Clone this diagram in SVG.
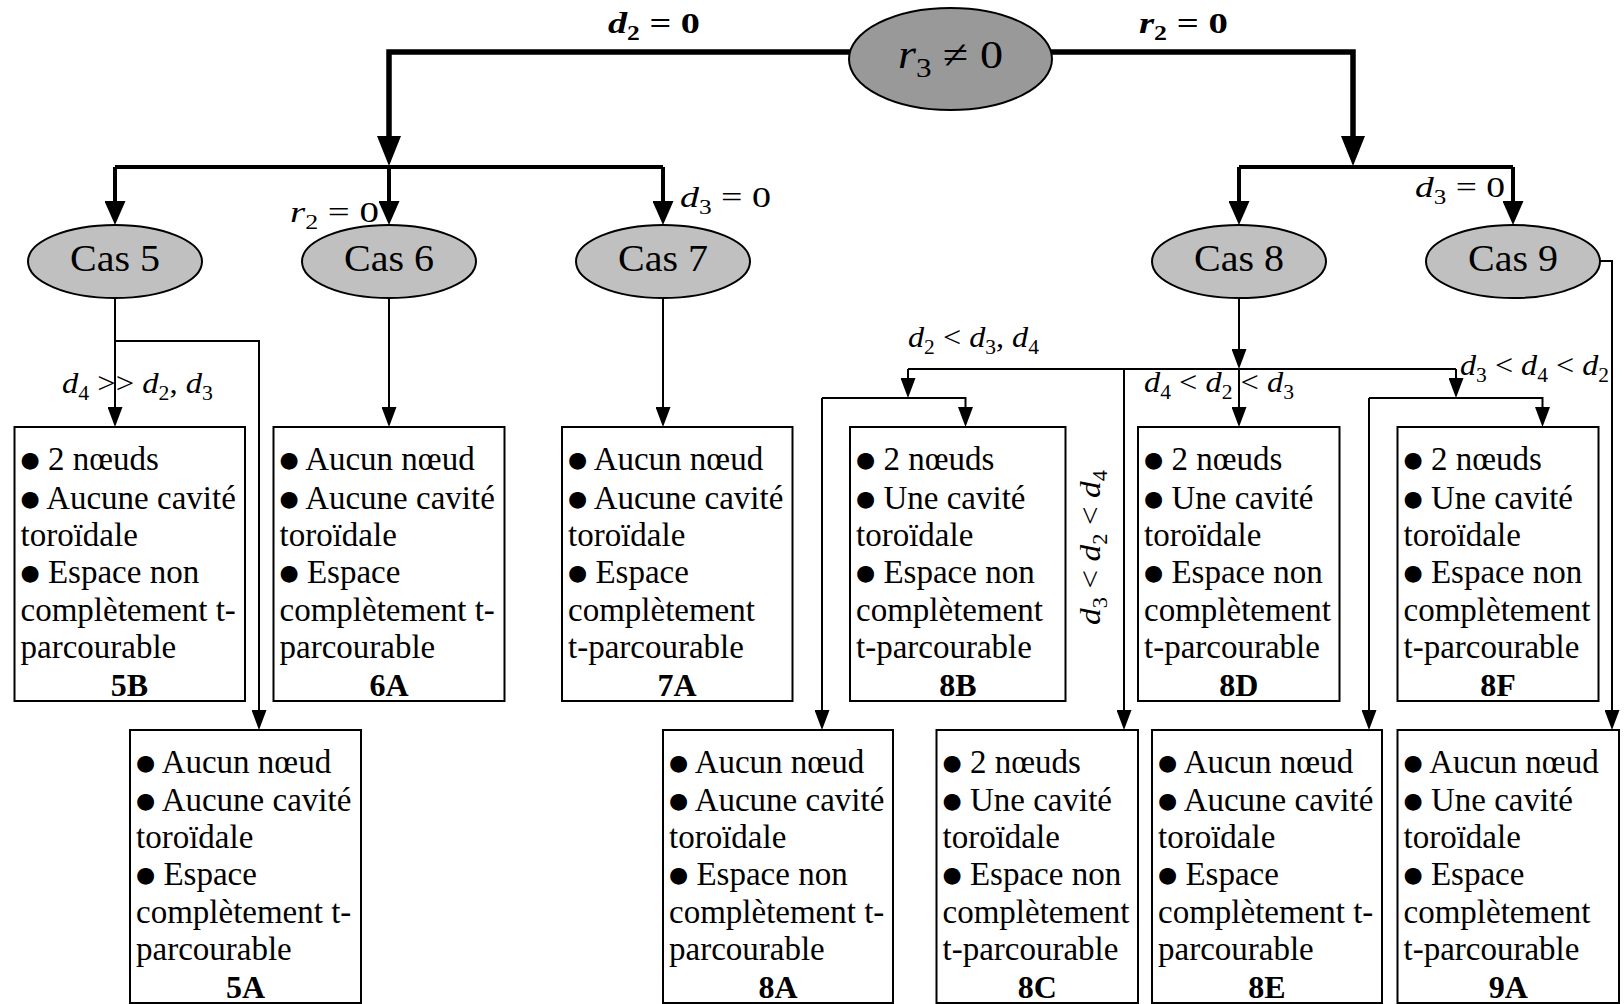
<svg xmlns="http://www.w3.org/2000/svg" width="1624" height="1004" viewBox="0 0 1624 1004">
<style>
text { font-family: "Liberation Serif", "DejaVu Serif", serif; fill: #000; }
.bt { font-size: 33px; }
.bul { font-family: "DejaVu Sans", sans-serif; font-size: 22px; }
.id { font-size: 32px; font-weight: bold; text-anchor: middle; }
.cas { font-size: 37px; }
.m { font-size: 30px; }
.mb { font-size: 30px; font-weight: bold; }
.it { font-style: italic; }
.sub { font-size: 20px; }
.box { fill: #fff; stroke: #000; stroke-width: 2; }
.ell { fill: #c0c0c0; stroke: #000; stroke-width: 2; }
.root { fill: #999999; stroke: #000; stroke-width: 2; }
.thick { fill: none; stroke: #000; stroke-width: 5.5; }
.midl { fill: none; stroke: #000; stroke-width: 4; }
.thin { fill: none; stroke: #000; stroke-width: 2; }
</style>
<defs>
<marker id="ahT" markerUnits="userSpaceOnUse" markerWidth="30" markerHeight="24" viewBox="0 0 30 24" refX="0" refY="12" orient="auto"><path d="M0,0 L30,12 L0,24 z" fill="#000"/></marker>
<marker id="ahM" markerUnits="userSpaceOnUse" markerWidth="24" markerHeight="21" viewBox="0 0 24 21" refX="0" refY="10.5" orient="auto"><path d="M0,0 L24,10.5 L0,21 z" fill="#000"/></marker>
<marker id="ahS" markerUnits="userSpaceOnUse" markerWidth="20" markerHeight="15" viewBox="0 0 20 15" refX="0" refY="7.5" orient="auto"><path d="M0,0 L20,7.5 L0,15 z" fill="#000"/></marker>
</defs>

<g id="connectors">
  <path class="thick" d="M851,52 H389 V136" marker-end="url(#ahT)"/>
  <path class="thick" d="M1051,52 H1353 V136" marker-end="url(#ahT)"/>
  <path class="midl" d="M115,167 H663"/>
  <path class="midl" d="M115,167 V201" marker-end="url(#ahM)"/>
  <path class="midl" d="M389,167 V201" marker-end="url(#ahM)"/>
  <path class="midl" d="M663,167 V201" marker-end="url(#ahM)"/>
  <path class="midl" d="M1239,167 H1513"/>
  <path class="midl" d="M1239,167 V201" marker-end="url(#ahM)"/>
  <path class="midl" d="M1513,167 V201" marker-end="url(#ahM)"/>

  <path class="thin" d="M115,298 V407" marker-end="url(#ahS)"/>
  <path class="thin" d="M115,341 H259 V710" marker-end="url(#ahS)"/>
  <path class="thin" d="M389,298 V407" marker-end="url(#ahS)"/>
  <path class="thin" d="M663,298 V407" marker-end="url(#ahS)"/>

  <path class="thin" d="M1239,298 V349" marker-end="url(#ahS)"/>
  <path class="thin" d="M908,369 H1456"/>
  <path class="thin" d="M908,369 V378" marker-end="url(#ahS)"/>
  <path class="thin" d="M822,398 H965.5 V407" marker-end="url(#ahS)"/>
  <path class="thin" d="M822,398 V710" marker-end="url(#ahS)"/>
  <path class="thin" d="M1124,369 V710" marker-end="url(#ahS)"/>
  <path class="thin" d="M1239,369 V407" marker-end="url(#ahS)"/>
  <path class="thin" d="M1456,369 V378" marker-end="url(#ahS)"/>
  <path class="thin" d="M1369,398 H1542.5 V407" marker-end="url(#ahS)"/>
  <path class="thin" d="M1369,398 V710" marker-end="url(#ahS)"/>
  <path class="thin" d="M1600,261 H1612 V710" marker-end="url(#ahS)"/>

  <text class="mb" x="608" y="33" textLength="92" lengthAdjust="spacingAndGlyphs"><tspan class="it">d</tspan><tspan class="sub" dy="7">2</tspan><tspan dy="-7"> = 0</tspan></text>
  <text class="mb" x="1139" y="33" textLength="89" lengthAdjust="spacingAndGlyphs"><tspan class="it">r</tspan><tspan class="sub" dy="7">2</tspan><tspan dy="-7"> = 0</tspan></text>
  <text class="m" x="290" y="222" textLength="89" lengthAdjust="spacingAndGlyphs"><tspan class="it">r</tspan><tspan class="sub" dy="7">2</tspan><tspan dy="-7"> = 0</tspan></text>
  <text class="m" x="680" y="207" textLength="91" lengthAdjust="spacingAndGlyphs"><tspan class="it">d</tspan><tspan class="sub" dy="7">3</tspan><tspan dy="-7"> = 0</tspan></text>
  <text class="m" x="1415" y="197" textLength="90" lengthAdjust="spacingAndGlyphs"><tspan class="it">d</tspan><tspan class="sub" dy="7">3</tspan><tspan dy="-7"> = 0</tspan></text>
  <text class="m" x="62" y="393" textLength="151" lengthAdjust="spacingAndGlyphs"><tspan class="it">d</tspan><tspan class="sub" dy="7">4</tspan><tspan dy="-7"> &gt;&gt; </tspan><tspan class="it">d</tspan><tspan class="sub" dy="7">2</tspan><tspan dy="-7">, </tspan><tspan class="it">d</tspan><tspan class="sub" dy="7">3</tspan></text>
  <text class="m" x="908" y="347" textLength="131" lengthAdjust="spacingAndGlyphs"><tspan class="it">d</tspan><tspan class="sub" dy="7">2</tspan><tspan dy="-7"> &lt; </tspan><tspan class="it">d</tspan><tspan class="sub" dy="7">3</tspan><tspan dy="-7">, </tspan><tspan class="it">d</tspan><tspan class="sub" dy="7">4</tspan></text>
  <text class="m" x="1144" y="392" textLength="150" lengthAdjust="spacingAndGlyphs"><tspan class="it">d</tspan><tspan class="sub" dy="7">4</tspan><tspan dy="-7"> &lt; </tspan><tspan class="it">d</tspan><tspan class="sub" dy="7">2</tspan><tspan dy="-7"> &lt; </tspan><tspan class="it">d</tspan><tspan class="sub" dy="7">3</tspan></text>
  <text class="m" x="1460" y="375" textLength="149" lengthAdjust="spacingAndGlyphs"><tspan class="it">d</tspan><tspan class="sub" dy="7">3</tspan><tspan dy="-7"> &lt; </tspan><tspan class="it">d</tspan><tspan class="sub" dy="7">4</tspan><tspan dy="-7"> &lt; </tspan><tspan class="it">d</tspan><tspan class="sub" dy="7">2</tspan></text>
  <text class="m" transform="translate(1100,625) rotate(-90)" x="0" y="0" textLength="155" lengthAdjust="spacingAndGlyphs"><tspan class="it">d</tspan><tspan class="sub" dy="7">3</tspan><tspan dy="-7"> &lt; </tspan><tspan class="it">d</tspan><tspan class="sub" dy="7">2</tspan><tspan dy="-7"> &lt; </tspan><tspan class="it">d</tspan><tspan class="sub" dy="7">4</tspan></text>
</g>

<g id="node-root">
  <ellipse class="root" cx="950.5" cy="59" rx="101.5" ry="51"/>
  <text style="font-size:40px" x="898" y="68" textLength="105" lengthAdjust="spacingAndGlyphs"><tspan class="it">r</tspan><tspan style="font-size:27px" dy="9">3</tspan><tspan dy="-9"> ≠ 0</tspan></text>
</g>

<g id="node-cas5"><ellipse class="ell" cx="115" cy="261.5" rx="87" ry="36.5"/><text class="cas" x="70" y="271" textLength="90" lengthAdjust="spacingAndGlyphs">Cas 5</text></g>
<g id="node-cas6"><ellipse class="ell" cx="389" cy="261.5" rx="87" ry="36.5"/><text class="cas" x="344" y="271" textLength="90" lengthAdjust="spacingAndGlyphs">Cas 6</text></g>
<g id="node-cas7"><ellipse class="ell" cx="663" cy="261.5" rx="87" ry="36.5"/><text class="cas" x="618" y="271" textLength="90" lengthAdjust="spacingAndGlyphs">Cas 7</text></g>
<g id="node-cas8"><ellipse class="ell" cx="1239" cy="261.5" rx="87" ry="36.5"/><text class="cas" x="1194" y="271" textLength="90" lengthAdjust="spacingAndGlyphs">Cas 8</text></g>
<g id="node-cas9"><ellipse class="ell" cx="1513" cy="261.5" rx="87" ry="36.5"/><text class="cas" x="1468" y="271" textLength="90" lengthAdjust="spacingAndGlyphs">Cas 9</text></g>

<g id="node-5B" transform="translate(14.5,427)">
  <rect class="box" width="230.5" height="274"/>
  <text class="bt" x="6" y="43"><tspan class="bul" dy="-3">●</tspan><tspan dy="3"> 2 nœuds</tspan></text>
  <text class="bt" x="6" y="82"><tspan class="bul" dy="-3">●</tspan><tspan dy="3"> Aucune cavité</tspan></text>
  <text class="bt" x="6" y="119">toroïdale</text>
  <text class="bt" x="6" y="156"><tspan class="bul" dy="-3">●</tspan><tspan dy="3"> Espace non</tspan></text>
  <text class="bt" x="6" y="194">complètement t-</text>
  <text class="bt" x="6" y="231">parcourable</text>
  <text class="id" x="115" y="269">5B</text>
</g>
<g id="node-6A" transform="translate(273.5,427)">
  <rect class="box" width="231" height="274"/>
  <text class="bt" x="6" y="43"><tspan class="bul" dy="-3">●</tspan><tspan dy="3"> Aucun nœud</tspan></text>
  <text class="bt" x="6" y="82"><tspan class="bul" dy="-3">●</tspan><tspan dy="3"> Aucune cavité</tspan></text>
  <text class="bt" x="6" y="119">toroïdale</text>
  <text class="bt" x="6" y="156"><tspan class="bul" dy="-3">●</tspan><tspan dy="3"> Espace</tspan></text>
  <text class="bt" x="6" y="194">complètement t-</text>
  <text class="bt" x="6" y="231">parcourable</text>
  <text class="id" x="115.5" y="269">6A</text>
</g>
<g id="node-7A" transform="translate(562,427)">
  <rect class="box" width="230.5" height="274"/>
  <text class="bt" x="6" y="43"><tspan class="bul" dy="-3">●</tspan><tspan dy="3"> Aucun nœud</tspan></text>
  <text class="bt" x="6" y="82"><tspan class="bul" dy="-3">●</tspan><tspan dy="3"> Aucune cavité</tspan></text>
  <text class="bt" x="6" y="119">toroïdale</text>
  <text class="bt" x="6" y="156"><tspan class="bul" dy="-3">●</tspan><tspan dy="3"> Espace</tspan></text>
  <text class="bt" x="6" y="194">complètement</text>
  <text class="bt" x="6" y="231">t-parcourable</text>
  <text class="id" x="115" y="269">7A</text>
</g>
<g id="node-8B" transform="translate(850,427)">
  <rect class="box" width="215.5" height="274"/>
  <text class="bt" x="6" y="43"><tspan class="bul" dy="-3">●</tspan><tspan dy="3"> 2 nœuds</tspan></text>
  <text class="bt" x="6" y="82"><tspan class="bul" dy="-3">●</tspan><tspan dy="3"> Une cavité</tspan></text>
  <text class="bt" x="6" y="119">toroïdale</text>
  <text class="bt" x="6" y="156"><tspan class="bul" dy="-3">●</tspan><tspan dy="3"> Espace non</tspan></text>
  <text class="bt" x="6" y="194">complètement</text>
  <text class="bt" x="6" y="231">t-parcourable</text>
  <text class="id" x="107.8" y="269">8B</text>
</g>
<g id="node-8D" transform="translate(1138,427)">
  <rect class="box" width="201.5" height="274"/>
  <text class="bt" x="6" y="43"><tspan class="bul" dy="-3">●</tspan><tspan dy="3"> 2 nœuds</tspan></text>
  <text class="bt" x="6" y="82"><tspan class="bul" dy="-3">●</tspan><tspan dy="3"> Une cavité</tspan></text>
  <text class="bt" x="6" y="119">toroïdale</text>
  <text class="bt" x="6" y="156"><tspan class="bul" dy="-3">●</tspan><tspan dy="3"> Espace non</tspan></text>
  <text class="bt" x="6" y="194">complètement</text>
  <text class="bt" x="6" y="231">t-parcourable</text>
  <text class="id" x="100.8" y="269">8D</text>
</g>
<g id="node-8F" transform="translate(1397.5,427)">
  <rect class="box" width="201" height="274"/>
  <text class="bt" x="6" y="43"><tspan class="bul" dy="-3">●</tspan><tspan dy="3"> 2 nœuds</tspan></text>
  <text class="bt" x="6" y="82"><tspan class="bul" dy="-3">●</tspan><tspan dy="3"> Une cavité</tspan></text>
  <text class="bt" x="6" y="119">toroïdale</text>
  <text class="bt" x="6" y="156"><tspan class="bul" dy="-3">●</tspan><tspan dy="3"> Espace non</tspan></text>
  <text class="bt" x="6" y="194">complètement</text>
  <text class="bt" x="6" y="231">t-parcourable</text>
  <text class="id" x="100.5" y="269">8F</text>
</g>

<g id="node-5A" transform="translate(130,730)">
  <rect class="box" width="231" height="273"/>
  <text class="bt" x="6" y="43"><tspan class="bul" dy="-3">●</tspan><tspan dy="3"> Aucun nœud</tspan></text>
  <text class="bt" x="6" y="81"><tspan class="bul" dy="-3">●</tspan><tspan dy="3"> Aucune cavité</tspan></text>
  <text class="bt" x="6" y="118">toroïdale</text>
  <text class="bt" x="6" y="155"><tspan class="bul" dy="-3">●</tspan><tspan dy="3"> Espace</tspan></text>
  <text class="bt" x="6" y="193">complètement t-</text>
  <text class="bt" x="6" y="230">parcourable</text>
  <text class="id" x="115.5" y="268">5A</text>
</g>
<g id="node-8A" transform="translate(663,730)">
  <rect class="box" width="230" height="273"/>
  <text class="bt" x="6" y="43"><tspan class="bul" dy="-3">●</tspan><tspan dy="3"> Aucun nœud</tspan></text>
  <text class="bt" x="6" y="81"><tspan class="bul" dy="-3">●</tspan><tspan dy="3"> Aucune cavité</tspan></text>
  <text class="bt" x="6" y="118">toroïdale</text>
  <text class="bt" x="6" y="155"><tspan class="bul" dy="-3">●</tspan><tspan dy="3"> Espace non</tspan></text>
  <text class="bt" x="6" y="193">complètement t-</text>
  <text class="bt" x="6" y="230">parcourable</text>
  <text class="id" x="115" y="268">8A</text>
</g>
<g id="node-8C" transform="translate(936.5,730)">
  <rect class="box" width="201.5" height="273"/>
  <text class="bt" x="6" y="43"><tspan class="bul" dy="-3">●</tspan><tspan dy="3"> 2 nœuds</tspan></text>
  <text class="bt" x="6" y="81"><tspan class="bul" dy="-3">●</tspan><tspan dy="3"> Une cavité</tspan></text>
  <text class="bt" x="6" y="118">toroïdale</text>
  <text class="bt" x="6" y="155"><tspan class="bul" dy="-3">●</tspan><tspan dy="3"> Espace non</tspan></text>
  <text class="bt" x="6" y="193">complètement</text>
  <text class="bt" x="6" y="230">t-parcourable</text>
  <text class="id" x="100.8" y="268">8C</text>
</g>
<g id="node-8E" transform="translate(1152,730)">
  <rect class="box" width="230" height="273"/>
  <text class="bt" x="6" y="43"><tspan class="bul" dy="-3">●</tspan><tspan dy="3"> Aucun nœud</tspan></text>
  <text class="bt" x="6" y="81"><tspan class="bul" dy="-3">●</tspan><tspan dy="3"> Aucune cavité</tspan></text>
  <text class="bt" x="6" y="118">toroïdale</text>
  <text class="bt" x="6" y="155"><tspan class="bul" dy="-3">●</tspan><tspan dy="3"> Espace</tspan></text>
  <text class="bt" x="6" y="193">complètement t-</text>
  <text class="bt" x="6" y="230">parcourable</text>
  <text class="id" x="115" y="268">8E</text>
</g>
<g id="node-9A" transform="translate(1397.5,730)">
  <rect class="box" width="221.5" height="273"/>
  <text class="bt" x="6" y="43"><tspan class="bul" dy="-3">●</tspan><tspan dy="3"> Aucun nœud</tspan></text>
  <text class="bt" x="6" y="81"><tspan class="bul" dy="-3">●</tspan><tspan dy="3"> Une cavité</tspan></text>
  <text class="bt" x="6" y="118">toroïdale</text>
  <text class="bt" x="6" y="155"><tspan class="bul" dy="-3">●</tspan><tspan dy="3"> Espace</tspan></text>
  <text class="bt" x="6" y="193">complètement</text>
  <text class="bt" x="6" y="230">t-parcourable</text>
  <text class="id" x="110.8" y="268">9A</text>
</g>
</svg>
